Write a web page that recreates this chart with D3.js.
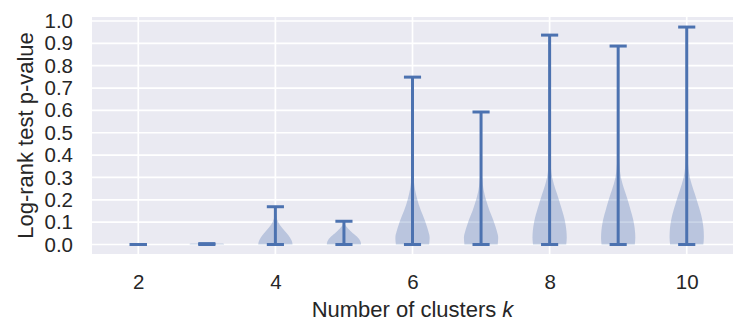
<!DOCTYPE html>
<html>
<head>
<meta charset="utf-8">
<script src="https://cdn.jsdelivr.net/npm/d3@7"></script>
<style>
  html, body { margin: 0; padding: 0; background: #ffffff; }
  svg { display: block; }
  text { font-family: "Liberation Sans", Arial, sans-serif; fill: #262626; }
</style>
</head>
<body>
<svg id="chart" width="748" height="336"></svg>
<script>
// ---- data ----
const clusterCounts = [2, 3, 4, 5, 6, 7, 8, 9, 10];
const pMin = [0, 0, 0, 0, 0, 0, 0, 0, 0];
const pMax = [0.0, 0.004, 0.169, 0.104, 0.749, 0.593, 0.937, 0.888, 0.973];
const xTickValues = [2, 4, 6, 8, 10];
const yTickValues = [0.0, 0.1, 0.2, 0.3, 0.4, 0.5, 0.6, 0.7, 0.8, 0.9, 1.0];
const xLabel = "Number of clusters ";
const xLabelItalic = "k";
const yLabel = "Log-rank test p-value";

// violin outlines: [p-value, relative half width]
const shape2 = [];
const shape3 = [[0, 1], [0.002, 1], [0.004, 0.9]];
const shape4 = [[0, 1], [0.01, 0.98], [0.02, 0.93], [0.04, 0.77], [0.06, 0.55], [0.08, 0.33], [0.10, 0.17], [0.12, 0.07], [0.14, 0.03], [0.169, 0.01]];
const shape5 = [[0, 1], [0.01, 0.98], [0.02, 0.92], [0.03, 0.82], [0.04, 0.68], [0.05, 0.52], [0.06, 0.38], [0.07, 0.25], [0.08, 0.14], [0.09, 0.06], [0.104, 0.02]];
const shape6 = [[0, 0.97], [0.03, 1], [0.06, 0.92], [0.09, 0.8], [0.12, 0.66], [0.15, 0.5], [0.18, 0.36], [0.21, 0.25], [0.24, 0.16], [0.27, 0.1], [0.30, 0.06], [0.35, 0.03], [0.45, 0.015], [0.6, 0.01], [0.749, 0.005]];
const shape7 = [[0, 0.97], [0.03, 1], [0.06, 0.92], [0.09, 0.8], [0.12, 0.66], [0.15, 0.5], [0.18, 0.37], [0.21, 0.25], [0.24, 0.16], [0.27, 0.1], [0.30, 0.06], [0.35, 0.03], [0.45, 0.01], [0.593, 0.005]];
const shape8 = [[0, 0.97], [0.03, 1], [0.06, 0.98], [0.09, 0.93], [0.12, 0.85], [0.15, 0.74], [0.18, 0.62], [0.21, 0.5], [0.24, 0.37], [0.27, 0.25], [0.30, 0.15], [0.34, 0.08], [0.40, 0.04], [0.55, 0.015], [0.75, 0.008], [0.937, 0.005]];
const shape9 = [[0, 0.97], [0.03, 1], [0.06, 0.98], [0.09, 0.93], [0.12, 0.85], [0.15, 0.74], [0.18, 0.63], [0.21, 0.51], [0.24, 0.38], [0.27, 0.26], [0.30, 0.16], [0.34, 0.09], [0.40, 0.04], [0.55, 0.015], [0.75, 0.008], [0.888, 0.005]];
const shape10 = [[0, 0.97], [0.03, 1], [0.06, 0.99], [0.09, 0.95], [0.12, 0.88], [0.15, 0.78], [0.18, 0.66], [0.21, 0.54], [0.24, 0.41], [0.27, 0.29], [0.30, 0.18], [0.34, 0.1], [0.40, 0.045], [0.55, 0.015], [0.75, 0.008], [0.973, 0.005]];
const shapes = [shape2, shape3, shape4, shape5, shape6, shape7, shape8, shape9, shape10];

// ---- layout ----
const svg = d3.select("#chart");
const plot = { left: 92, right: 733, top: 17, bottom: 254 };
const blue = "#4C72B0";

const x = d3.scaleLinear().domain([1.325, 10.675]).range([plot.left, plot.right]);
const y = d3.scaleLinear().domain([-0.0425, 1.018]).range([plot.bottom, plot.top]);
const violinWidth = 0.5;

// background
svg.append("rect")
  .attr("x", plot.left).attr("y", plot.top)
  .attr("width", plot.right - plot.left).attr("height", plot.bottom - plot.top)
  .attr("fill", "#EAEAF2");

// grid
const grid = svg.append("g");
grid.selectAll("line.h").data(yTickValues).join("line")
  .attr("x1", plot.left).attr("x2", plot.right)
  .attr("y1", d => y(d)).attr("y2", d => y(d))
  .attr("stroke", "#ffffff").attr("stroke-width", 1.7);
grid.selectAll("line.v").data(xTickValues).join("line")
  .attr("y1", plot.top).attr("y2", plot.bottom)
  .attr("x1", d => x(d)).attr("x2", d => x(d))
  .attr("stroke", "#ffffff").attr("stroke-width", 1.7);

// axes (labels only, no domain/ticks lines)
const yAxis = svg.append("g")
  .attr("transform", `translate(${plot.left},0)`)
  .call(d3.axisLeft(y).tickValues(yTickValues).tickFormat(d3.format(".1f")).tickSize(0).tickPadding(19));
const xAxis = svg.append("g")
  .attr("transform", `translate(0,${plot.bottom})`)
  .call(d3.axisBottom(x).tickValues(xTickValues).tickFormat(d3.format("d")).tickSize(0).tickPadding(20));
[yAxis, xAxis].forEach(a => {
  a.select(".domain").remove();
  a.selectAll("text").attr("font-size", 20.5).attr("fill", "#262626")
    .attr("font-family", '"Liberation Sans", Arial, sans-serif');
});

// violins
const halfPx = (x(1 + violinWidth / 2) - x(1));
const area = d3.area()
  .x0(d => -d[1] * halfPx)
  .x1(d => d[1] * halfPx)
  .y(d => y(d[0]))
  .curve(d3.curveMonotoneY);

const violins = svg.append("g");
clusterCounts.forEach((k, i) => {
  const g = violins.append("g").attr("transform", `translate(${x(k)},0)`);
  if (shapes[i].length > 1) {
    g.append("path").attr("d", area(shapes[i]))
      .attr("fill", blue).attr("fill-opacity", 0.3).attr("stroke", "none");
  }
});

// stems and caps
const capHalf = x(1 + violinWidth / 4) - x(1);
const marks = svg.append("g");
marks.selectAll("line.stem").data(clusterCounts).join("line")
  .attr("x1", d => x(d)).attr("x2", d => x(d))
  .attr("y1", (d, i) => y(pMin[i])).attr("y2", (d, i) => y(pMax[i]))
  .attr("stroke", blue).attr("stroke-width", 3);
marks.selectAll("line.capmax").data(clusterCounts).join("line")
  .attr("x1", d => x(d) - capHalf).attr("x2", d => x(d) + capHalf)
  .attr("y1", (d, i) => y(pMax[i])).attr("y2", (d, i) => y(pMax[i]))
  .attr("stroke", blue).attr("stroke-width", 3);
marks.selectAll("line.capmin").data(clusterCounts).join("line")
  .attr("x1", d => x(d) - capHalf).attr("x2", d => x(d) + capHalf)
  .attr("y1", (d, i) => y(pMin[i])).attr("y2", (d, i) => y(pMin[i]))
  .attr("stroke", blue).attr("stroke-width", 3);

// axis labels
const xl = svg.append("text")
  .attr("x", (plot.left + plot.right) / 2).attr("y", 317)
  .attr("text-anchor", "middle").attr("font-size", 22);
xl.append("tspan").text(xLabel);
xl.append("tspan").attr("font-style", "italic").text(xLabelItalic);

svg.append("text")
  .attr("transform", `translate(33,${(plot.top + plot.bottom) / 2}) rotate(-90)`)
  .attr("text-anchor", "middle").attr("font-size", 22)
  .text(yLabel);
</script>
</body>
</html>
